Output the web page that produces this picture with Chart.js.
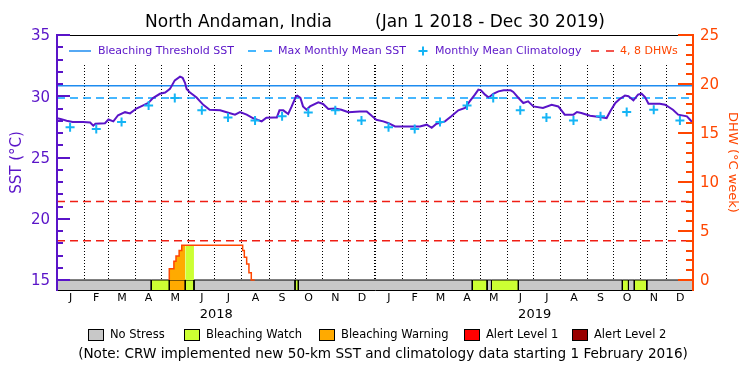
<!DOCTYPE html>
<html><head><meta charset="utf-8">
<script src="https://cdn.jsdelivr.net/npm/chart.js@4/dist/chart.umd.min.js"></script>
<style>html,body{margin:0;padding:0;background:#fff;}#wrap{width:750px;height:375px;}</style>
</head><body><div id="wrap"><canvas id="c" width="750" height="375"></canvas></div>
<script>
// ---------- DATA ----------
const TITLE = 'North Andaman, India        (Jan 1 2018 - Dec 30 2019)';
const NOTE = '(Note: CRW implemented new 50-km SST and climatology data starting 1 February 2016)';
// day index: 0 = Jan 1 2018
const monthStarts = [0,31,59,90,120,151,181,212,243,273,304,334,365,396,424,455,485,516,546,577,608,638,669,699,730];
const monthLetters = ['J','F','M','A','M','J','J','A','S','O','N','D','J','F','M','A','M','J','J','A','S','O','N','D'];
const yearLabels = ['2018','2019'];
const yearMids = [182.5, 547.5];
const sstTickLabels = [15,20,25,30,35];
const dhwTickLabels = [0,5,10,15,20,25];

const sstDays = [0,4,11,18,30,38,41.6,44,55,59,64.6,70,78,83.7,91,97,104.7,110,118,124,129.5,135,141,144,146.7,148.6,152.5,160,167.7,175,187,194.5,204,209.8,217.4,225,234.6,240,249,252,255,259.4,265,269,274,275.5,279,282,286,290,299.5,305,311,318.7,326,334,347,355,360.7,366,374,380,387.5,404.6,416,423.8,429.5,435,444.7,452,460,467.7,473,479,483,486,490.6,495,500,506,512,520,523,529,534.5,540,546,557,567,574.6,582,592,596,601,611,622,630,634,640,645,651,655,660.7,666,670,674,678,691,697,706,712,722,725.6,728];
const sstVals = [28.2,28.15,28.0,27.9,27.9,27.85,27.6,27.75,27.8,28.1,27.95,28.45,28.7,28.6,29.0,29.2,29.45,29.85,30.2,30.3,30.6,31.3,31.6,31.5,31.1,30.6,30.3,29.9,29.3,28.9,28.85,28.7,28.5,28.7,28.5,28.2,27.95,28.25,28.27,28.27,28.85,28.85,28.55,29.17,30.0,30.05,29.86,29.17,28.9,29.17,29.5,29.37,28.96,29.0,28.9,28.7,28.76,28.76,28.4,28.08,27.95,27.8,27.54,27.54,27.54,27.68,27.43,27.76,27.95,28.36,28.85,29.04,29.58,30.13,30.54,30.48,30.13,29.9,30.2,30.4,30.48,30.48,30.35,29.86,29.45,29.58,29.17,29.04,29.31,29.17,28.5,28.5,28.71,28.63,28.41,28.3,28.22,28.76,29.45,29.78,30.05,30.0,29.67,30.13,30.21,29.94,29.39,29.39,29.31,28.9,28.5,28.36,28.08,27.9];

const climDays = [15,45,74,105,135,166,196,227,258,288,319,349,380,410,439,470,500,531,561,592,623,653,684,714];
const climVals = [27.46,27.32,27.9,29.25,29.85,28.85,28.27,28.03,28.36,28.68,28.85,28.03,27.46,27.32,27.9,29.25,29.85,28.85,28.27,28.03,28.36,28.71,28.9,28.03];
const MMM = 29.85;
const THRESH = 30.85;
const dhwLevels = [4, 8];

const dhwDays = [128.7,128.7,134,136.4,140,143,144,212.8,214.7,217.4,220,222.7,226.6];
const dhwVals = [0,0.48,1.16,1.91,2.45,3.0,3.55,3.55,3.0,2.32,1.64,0.75,0];
const warnFillDays = [128.7,134,136.4,140,143,144,147];
const warnFillVals = [0.48,1.16,1.91,2.45,3.0,3.55,3.55];
const watchFillDays = [147,157];
const watchFillVals = [3.55,3.55];

const stressStart = [0,108,128.7,147,157,272.8,276.6,476,493,498,528.8,648,655,661.7,676];
const stressEnd   = [108,128.7,147,157,272.8,276.6,476,493,498,528.8,648,655,661.7,676,729];
const stressLevel = [0,1,2,1,0,1,0,1,0,1,0,1,0,1,0];
const stressNames = ['No Stress','Bleaching Watch','Bleaching Warning','Alert Level 1','Alert Level 2'];
const stressColors = ['#c8c8c8','#ccff33','#ffaa00','#ff0000','#990000'];
const legendLabels = ['Bleaching Threshold SST','Max Monthly Mean SST','Monthly Mean Climatology','4, 8 DHWs'];

// ---------- STYLE ----------
const PURPLE='#5a14c8', ORANGE='#ff4600', THRESH_C='#1e8cf0', MMM_C='#0aa0ff', CLIM_C='#14b4f5', LVL_C='#f01e14';
const FONT='"DejaVu Sans"';
const SST_MIN = 15 - 10/12.25, SST_MAX = 35;
const DHW_MIN = -10/9.8, DHW_MAX = 25;
const XMIN = 0, XMAX = 729;

const pts = (xs, ys) => xs.map((x,i)=>({x, y: ys[i]}));
const datasets = [];
datasets.push({label:'clim', data: pts(climDays, climVals), showLine:false, pointStyle:'cross', pointRadius:4.5, pointBorderColor:CLIM_C, pointBorderWidth:2, yAxisID:'y'});
datasets.push({label:'sst', data: pts(sstDays, sstVals), borderColor:PURPLE, borderWidth:2, pointRadius:0, tension:0, yAxisID:'y'});
datasets.push({label:'thr', data: pts([XMIN,XMAX],[THRESH,THRESH]), borderColor:THRESH_C, borderWidth:1.5, pointRadius:0, yAxisID:'y'});
datasets.push({label:'mmm', data: pts([XMIN,XMAX],[MMM,MMM]), borderColor:MMM_C, borderWidth:1.5, borderDash:[8,5], pointRadius:0, yAxisID:'y'});
datasets.push({label:'dhw', data: pts(dhwDays, dhwVals), borderColor:ORANGE, borderWidth:1.5, stepped:'after', pointRadius:0, yAxisID:'yR'});
datasets.push({label:'warnFill', data: pts(warnFillDays, warnFillVals), borderWidth:0, borderColor:'rgba(0,0,0,0)', backgroundColor:stressColors[2], fill:'origin', stepped:'after', pointRadius:0, yAxisID:'yR'});
datasets.push({label:'watchFill', data: pts(watchFillDays, watchFillVals), borderWidth:0, borderColor:'rgba(0,0,0,0)', backgroundColor:stressColors[1], fill:'origin', stepped:'after', pointRadius:0, yAxisID:'yR'});
dhwLevels.forEach(l => datasets.push({label:'lvl'+l, data: pts([XMIN,XMAX],[l,l]), borderColor:LVL_C, borderWidth:1.5, borderDash:[8,5], pointRadius:0, yAxisID:'yR'}));
stressStart.forEach((s,i) => {
  const e = stressEnd[i];
  datasets.push({label:'stress'+i, data: pts([s,s,e,e],[SST_MIN,15,15,SST_MIN]), borderColor:'#000', borderWidth:1, backgroundColor:stressColors[stressLevel[i]], fill:'start', pointRadius:0, yAxisID:'y'});
});

const axisDecor = {
  id:'axisDecor',
  afterDatasetsDraw(chart){
    const {ctx, chartArea:a} = chart;
    ctx.save();
    ctx.fillStyle='#fff';
    ctx.fillRect(a.left+1.5, a.top+1, a.right-a.left-3, 27);
    const y = 51;
    ctx.font = '11px '+FONT; ctx.textBaseline='middle'; ctx.textAlign='left';
    ctx.lineWidth = 1.5;
    ctx.strokeStyle = THRESH_C; ctx.setLineDash([]);
    ctx.beginPath(); ctx.moveTo(69,y); ctx.lineTo(91,y); ctx.stroke();
    ctx.fillStyle = PURPLE; ctx.fillText(legendLabels[0], 98, y);
    ctx.strokeStyle = MMM_C;
    ctx.beginPath(); ctx.moveTo(248,y); ctx.lineTo(256,y); ctx.moveTo(264,y); ctx.lineTo(272,y); ctx.stroke();
    ctx.fillText(legendLabels[1], 278, y);
    ctx.strokeStyle = CLIM_C; ctx.lineWidth = 2;
    ctx.beginPath(); ctx.moveTo(418.5,y); ctx.lineTo(427.5,y); ctx.moveTo(423,y-4.5); ctx.lineTo(423,y+4.5); ctx.stroke();
    ctx.fillText(legendLabels[2], 435, y);
    ctx.strokeStyle = LVL_C; ctx.lineWidth = 1.5;
    ctx.beginPath(); ctx.moveTo(591,y); ctx.lineTo(599,y); ctx.moveTo(606,y); ctx.lineTo(614,y); ctx.stroke();
    ctx.fillStyle = ORANGE; ctx.fillText(legendLabels[3], 620, y);
    ctx.restore();
  },
  afterDraw(chart){
    const {ctx, chartArea:a, scales} = chart;
    const ys = scales.y, yr = scales.yR;
    ctx.save();
    ctx.lineWidth = 2;
    ctx.strokeStyle = PURPLE;
    for (let v = sstTickLabels[0]; v <= SST_MAX; v++) {
      const p = Math.round(ys.getPixelForValue(v));
      const len = (v % 5 === 0) ? 13 : 6;
      ctx.beginPath(); ctx.moveTo(a.left, p); ctx.lineTo(a.left+len, p); ctx.stroke();
    }
    ctx.strokeStyle = ORANGE;
    for (let v = dhwTickLabels[0]; v <= DHW_MAX; v++) {
      const p = Math.round(yr.getPixelForValue(v));
      const len = (v % 5 === 0) ? 15 : 7;
      ctx.beginPath(); ctx.moveTo(a.right, p); ctx.lineTo(a.right-len, p); ctx.stroke();
    }
    // bottom legend
    const boxX = [88,184,319,464,572];
    const ly = 335;
    ctx.font = '11.5px '+FONT; ctx.textBaseline='middle'; ctx.textAlign='left';
    ctx.lineWidth = 1; ctx.strokeStyle = '#000';
    stressNames.forEach((n,i)=>{
      ctx.fillStyle = stressColors[i];
      ctx.fillRect(boxX[i]+0.5, ly-5.5, 15, 11);
      ctx.strokeRect(boxX[i]+0.5, ly-5.5, 15, 11);
      ctx.fillStyle = '#000';
      ctx.fillText(n, boxX[i]+22, ly);
    });
    ctx.font = '13.6px '+FONT; ctx.textAlign='center';
    ctx.fillText(NOTE, 383, 354);
    ctx.restore();
  }
};

new Chart(document.getElementById('c'), {
  type:'line',
  data:{datasets},
  plugins:[axisDecor],
  options:{
    responsive:false, animation:false, events:[],
    layout:{padding:{top:0,bottom:53,left:0,right:0}},
    plugins:{
      legend:{display:false}, tooltip:{enabled:false},
      title:{display:true, text:TITLE, color:'#000', font:{family:'DejaVu Sans', size:17, weight:'normal', lineHeight:1.2}, padding:{top:12,bottom:2.6}}
    },
    scales:{
      x:{type:'linear', position:'bottom', min:XMIN, max:XMAX, weight:0,
        afterBuildTicks:(s)=>{ s.ticks = monthStarts.filter(v=>v>XMIN && v<XMAX).map(v=>({value:v})); },
        afterFit:(s)=>{ s.height = 0; },
        ticks:{display:false},
        grid:{display:true, drawTicks:false, color:'#000', lineWidth:(c)=> (c.tick && c.tick.value===365) ? 2 : 1},
        border:{display:true, color:'#000', width:1, dash:[1,2], z:1}
      },
      xt:{type:'linear', position:'top', min:XMIN, max:XMAX,
        afterFit:(s)=>{ s.height = 0; },
        ticks:{display:false}, grid:{display:false},
        border:{display:true, color:'#000', width:1, z:1}
      },
      xm:{type:'linear', position:'bottom', min:XMIN, max:XMAX, weight:1,
        afterBuildTicks:(s)=>{ s.ticks = monthStarts.slice(0,-1).map((v,i)=>({value:(v+monthStarts[i+1])/2})); },
        afterFit:(s)=>{ s.height = 16; },
        ticks:{autoSkip:false, maxRotation:0, color:'#000', padding:1.4, font:{family:'DejaVu Sans', size:11}, callback:(v,i)=>monthLetters[i]},
        grid:{display:false, drawTicks:false}, border:{display:false}
      },
      xy:{type:'linear', position:'bottom', min:XMIN, max:XMAX, weight:2,
        afterBuildTicks:(s)=>{ s.ticks = yearMids.map(v=>({value:v})); },
        afterFit:(s)=>{ s.height = 16; },
        ticks:{autoSkip:false, maxRotation:0, color:'#000', padding:0.9, font:{family:'DejaVu Sans', size:13}, callback:(v,i)=>yearLabels[i]},
        grid:{display:false, drawTicks:false}, border:{display:false}
      },
      y:{type:'linear', position:'left', min:SST_MIN, max:SST_MAX,
        afterBuildTicks:(s)=>{ s.ticks = sstTickLabels.map(v=>({value:v})); },
        afterFit:(s)=>{ s.width = 57; },
        ticks:{color:PURPLE, padding:7, labelOffset:1.5, font:{family:'DejaVu Sans', size:15}},
        grid:{display:false, drawTicks:false},
        border:{display:true, color:PURPLE, width:2, z:1},
        title:{display:true, text:'SST (°C)', color:PURPLE, font:{family:'DejaVu Sans', size:15}, padding:{top:8,bottom:0}}
      },
      yR:{type:'linear', position:'right', min:DHW_MIN, max:DHW_MAX,
        afterBuildTicks:(s)=>{ s.ticks = dhwTickLabels.map(v=>({value:v})); },
        afterFit:(s)=>{ s.width = 57; },
        ticks:{color:ORANGE, padding:7, labelOffset:1, font:{family:'DejaVu Sans', size:15}},
        grid:{display:false, drawTicks:false},
        border:{display:true, color:ORANGE, width:2, z:1},
        title:{display:true, text:'DHW (°C week)', color:ORANGE, font:{family:'DejaVu Sans', size:13}, padding:{top:10,bottom:0}}
      }
    }
  }
});
</script></body></html>
